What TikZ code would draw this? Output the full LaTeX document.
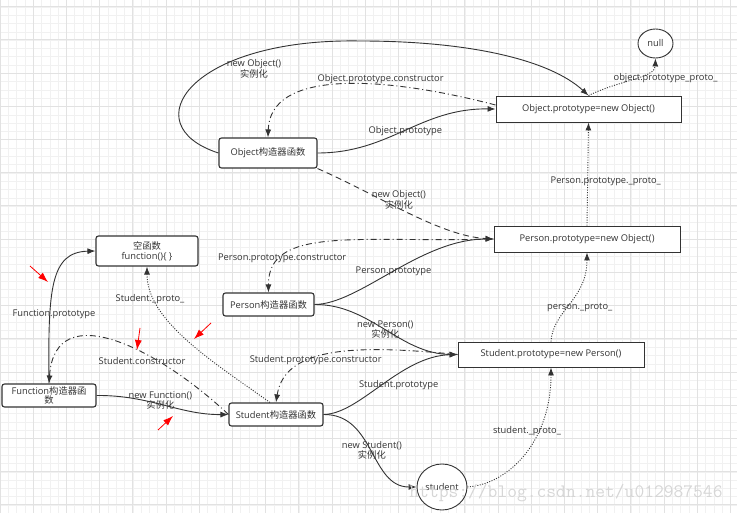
\documentclass[tikz,border=0pt]{standalone}
\usepackage{fontspec}
\setmainfont{Open Sans}
\newfontfamily\cjk{Noto Sans CJK SC}
\usetikzlibrary{arrows.meta, shapes.geometric}

\definecolor{traco}{HTML}{333333}
\definecolor{gradefina}{HTML}{F1F1F1}
\definecolor{gradegrossa}{HTML}{E2E2E2}
\definecolor{marca}{HTML}{FF0000}
\definecolor{agua}{HTML}{D6D6D6}

\begin{document}
\begin{tikzpicture}[
        x=1pt, y=-1pt,
        font=\fontsize{9.3}{10}\selectfont,
        text=traco,
        funcao/.style={shape=rectangle, rounded corners=2.5pt, draw=traco, line width=1.1pt, fill=white, align=center, inner sep=1pt},
        prototipo/.style={shape=rectangle, draw=traco, line width=0.9pt, fill=white, inner sep=1pt},
        instancia/.style={shape=ellipse, draw=traco, line width=0.9pt, fill=white, inner sep=0pt},
        rotulo/.style={align=center, inner sep=0pt},
        pref/.style={draw=traco, line width=0.9pt, -{Latex[length=8pt, width=6pt]}},
        pnew/.style={pref, dash pattern=on 6pt off 4pt},
        pctor/.style={pref, dash pattern=on 6pt off 3pt on 1pt off 3pt},
        pptr/.style={pref, line width=0.9pt, dash pattern=on 1pt off 1.5pt},
        seta/.style={draw=marca, line width=0.8pt, -{Latex[length=10pt, width=7pt]}},
        gfina/.style={draw=gradefina, line width=0.6pt},
        ggrossa/.style={draw=gradegrossa, line width=0.8pt},
    ]
    \useasboundingbox (0,0) rectangle (737,513);

    % grade de fundo
    \foreach \i in {0,...,88} \draw[gfina] ({\i*8.3},0) -- ({\i*8.3},513);
    \foreach \j in {0,...,62} \draw[gfina] (0,{\j*8.3-1.3}) -- (737,{\j*8.3-1.3});
    \foreach \i in {0,...,22} \draw[ggrossa] ({\i*33.2},0) -- ({\i*33.2},513);
    \foreach \j in {0,...,15} \draw[ggrossa] (0,{\j*33.2+6.7}) -- (737,{\j*33.2+6.7});

    \node[instancia, minimum width=35, minimum height=29] (nulo) at (655.5,43.5) {null};
    \node[prototipo, minimum width=185, minimum height=26] (objp) at (588.5,109) {Object.prototype=new Object()};
    \node[funcao, minimum width=98, minimum height=30] (objc) at (268,153) {Object{\cjk 构造器函数}};
    \node[prototipo, minimum width=186, minimum height=26] (perp) at (587,239) {Person.prototype=new Object()};
    \node[funcao, minimum width=91, minimum height=23] (perc) at (268.5,304.5) {Person{\cjk 构造器函数}};
    \node[prototipo, minimum width=186, minimum height=25] (stup) at (551,354.5) {Student.prototype=new Person()};
    \node[funcao, minimum width=102, minimum height=30] (vazia) at (147,251) {{\cjk 空函数}\\function()\{ \}};
    \node[funcao, minimum width=94, minimum height=23, font=\fontsize{9.3}{8}\selectfont] (func) at (49,395.5) {Function{\cjk 构造器函}\\{\cjk 数}};
    \node[funcao, minimum width=94, minimum height=23] (stuc) at (276,414.5) {Student{\cjk 构造器函数}};
    \node[instancia, minimum width=50, minimum height=46] (aluno) at (442,487) {student};

    \draw[pref] (objc.west) .. controls (132,125) and (190,38) .. (360,41)
        node[rotulo, pos=0.75, below=6pt] (r1) {new Object()\\{\cjk 实例化}}
        .. controls (470,41) and (550,60) .. (objp.north);
    \draw[pctor] ([yshift=4pt]objp.west) .. controls (380,75) and (270,70) .. (objc.north)
        node[rotulo, pos=0.35, above=1pt] (r2) {Object.prototype.constructor};
    \draw[pref] (objc.east) .. controls (390,153) and (420,108) .. (objp.west)
        node[rotulo, midway] (r3) {Object.prototype};
    \draw[pnew] (objc.south east) .. controls (380,196) and (440,236) .. (perp.west)
        node[rotulo, midway, above=3pt, xshift=-10pt] (r4) {new Object()\\{\cjk 实例化}};
    \draw[pptr] (perp.north) -- (objp.south)
        node[rotulo, midway, xshift=18pt, yshift=-7pt] (r5) {Person.prototype.\_proto\_};
    \draw[pptr] (objp.north) .. controls (620,80) and (655,78) .. (nulo.south)
        node[rotulo, midway, xshift=32pt] (r6) {object.prototype\_proto\_};
    \draw[pctor] (perp.west) .. controls (360,243) and (268,225) .. (perc.north)
        node[rotulo, pos=0.77] (r7) {Person.prototype.constructor};
    \draw[pref] (perc.east) .. controls (360,304) and (420,239) .. (perp.west)
        node[rotulo, midway] (r8) {Person.prototype};
    \draw[pref] (perc.east) .. controls (370,304) and (400,354) .. (stup.west)
        node[rotulo, midway] (r9) {new Person()\\{\cjk 实例化}};
    \draw[pctor] (stup.west) .. controls (360,345) and (285,345) .. (stuc.north)
        node[rotulo, pos=0.6, yshift=-2pt] (r10) {Student.prototype.constructor};
    \draw[pref] (stuc.east) .. controls (360,414) and (400,356) .. (stup.west)
        node[rotulo, midway, xshift=16pt] (r11) {Student.prototype};
    \draw[pptr] (stup.north) .. controls (553,310) and (587,300) .. (perp.south)
        node[rotulo, midway, xshift=10pt, yshift=-5pt] (r12) {person.\_proto\_};
    \draw[pptr] (aluno.east) .. controls (510,484) and (551,440) .. (stup.south)
        node[rotulo, pos=0.7, xshift=-14pt, yshift=-6.5pt] (r13) {student.\_proto\_};
    \draw[pref] (stuc.east) .. controls (375,414) and (370,487) .. (aluno.west)
        node[rotulo, midway] (r14) {new Student()\\{\cjk 实例化}};
    \draw[pref] (func.north) .. controls (48,290) and (50,252) .. (vazia.west)
        node[rotulo, pos=0.3, xshift=4pt] (r15) {Function.prototype};
    \draw[pref] (func.east) .. controls (150,395) and (180,415) .. (stuc.west)
        node[rotulo, midway, xshift=-4pt, yshift=5pt] (r16) {new Function()\\{\cjk 实例化}};
    \draw[pctor] (stuc.west) .. controls (160,350) and (55,295) .. (func.north)
        node[rotulo, pos=0.38, below=5pt] (r17) {Student.constructor};
    \draw[pptr] ([xshift=-6pt]stuc.north) .. controls (210,360) and (147,320) .. (vazia.south)
        node[rotulo, pos=0.8, xshift=-4pt, yshift=-2pt] (r18) {Student.\_proto\_};

    % setas vermelhas
    \draw[seta] (30,266) -- (48,282);
    \draw[seta] (140,328) -- (137,350);
    \draw[seta] (211,323) -- (194,339);
    \draw[seta] (158,430) -- (173,416);

    \node[text=agua, font=\fontsize{19}{19}\selectfont\ttfamily] (marcadagua) at (566,493) {https://blog.csdn.net/u012987546};
\end{tikzpicture}
\end{document}
